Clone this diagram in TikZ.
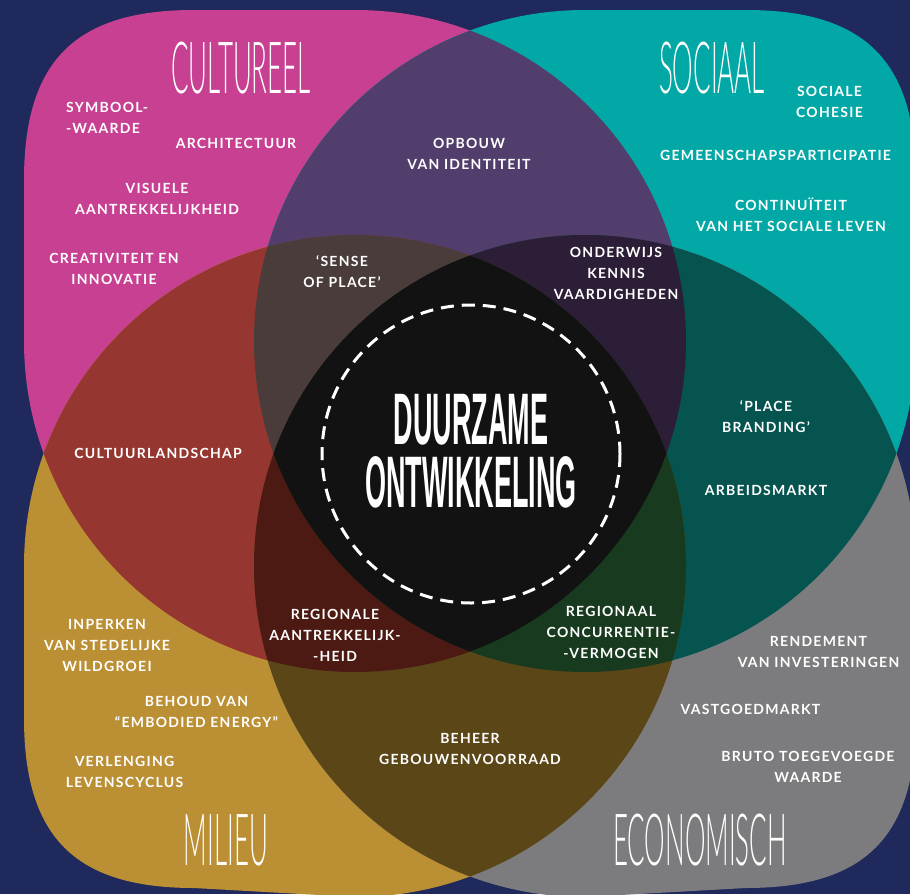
\documentclass[tikz,border=0pt]{standalone}
\usepackage{fontspec}
\setmainfont{Lato}
\newfontfamily\smallfont[LetterSpace=9]{Lato}
\newfontfamily\titlefont[FakeStretch=0.36]{Lato Light}
\newfontfamily\centerfont[FakeStretch=0.37]{Liberation Sans}
\definecolor{cNavy}{RGB}{31,41,91}
\definecolor{cMag}{RGB}{200,64,146}
\definecolor{cTeal}{RGB}{2,168,165}
\definecolor{cMus}{RGB}{187,143,52}
\definecolor{cGrey}{RGB}{124,123,125}
\definecolor{cMT}{RGB}{81,62,108}
\definecolor{cMU}{RGB}{150,54,49}
\definecolor{cTG}{RGB}{6,84,80}
\definecolor{cUG}{RGB}{91,70,24}
\definecolor{cMTU}{RGB}{74,60,58}
\definecolor{cMTG}{RGB}{44,30,54}
\definecolor{cMUG}{RGB}{76,26,18}
\definecolor{cTUG}{RGB}{24,58,30}
\definecolor{cAll}{RGB}{18,18,18}
\def\magpath{(355,10) arc[start angle=-90,end angle=180,radius=331] -- (24,180) .. controls (24,61) and (75,10) .. (194,10) -- cycle}
\def\tealpath{(916,341) arc[start angle=0,end angle=270,radius=331] -- (746,10) .. controls (865,10) and (916,61) .. (916,180) -- cycle}
\def\muspath{(24,566) arc[start angle=180,end angle=450,radius=331] -- (194,888) .. controls (75,888) and (24,837) .. (24,718) -- cycle}
\def\greypath{(585,897) arc[start angle=90,end angle=360,radius=331] -- (916,718) .. controls (916,837) and (865,888) .. (746,888) -- cycle}
\begin{document}
\begin{tikzpicture}[x=1pt,y=-1pt,
  lbl/.style={font=\smallfont\bfseries\fontsize{14}{21}\selectfont,text=white,align=center,inner sep=0pt},
  ttl/.style={font=\titlefont\fontsize{72}{72}\selectfont,text=white,inner sep=0pt,anchor=base},
  ctr/.style={font=\centerfont\bfseries\fontsize{73}{63}\selectfont,text=white,align=center,inner sep=0pt}]
\useasboundingbox (0,0) rectangle (910,894);
\clip (0,0) rectangle (910,894);
\fill[cNavy] (0,0) rectangle (910,894);
% base shapes
\fill[cMag] \magpath;
\fill[cTeal] \tealpath;
\fill[cMus] \muspath;
\fill[cGrey] \greypath;
% pairs
\begin{scope}\clip \magpath; \fill[cMT] \tealpath; \end{scope}
\begin{scope}\clip \magpath; \fill[cMU] \muspath; \end{scope}
\begin{scope}\clip \tealpath; \fill[cTG] \greypath; \end{scope}
\begin{scope}\clip \muspath; \fill[cUG] \greypath; \end{scope}
% triples
\begin{scope}\clip \magpath; \clip \tealpath; \fill[cMTU] \muspath; \end{scope}
\begin{scope}\clip \magpath; \clip \tealpath; \fill[cMTG] \greypath; \end{scope}
\begin{scope}\clip \magpath; \clip \muspath; \fill[cMUG] \greypath; \end{scope}
\begin{scope}\clip \tealpath; \clip \muspath; \fill[cTUG] \greypath; \end{scope}
% all four
\begin{scope}\clip \magpath; \clip \tealpath; \clip \muspath; \fill[cAll] \greypath; \end{scope}
% dashed ring
\draw[white,line width=3pt,dash pattern=on 13pt off 8pt] (471,454) circle[radius=149];
% titles
\node[ttl] (cult) at (241,93) {CULTUREEL};
\node[ttl] (soc) at (712,93) {SOCIAAL};
\node[ttl] (mil) at (226,865) {MILIEU};
\node[ttl] (eco) at (700,865) {ECONOMISCH};
\node[ctr] (dur) at (471,451.5) {DUURZAME\\ONTWIKKELING};
% labels
\node[lbl,align=left,anchor=west] (sym) at (66,118) {SYMBOOL-\\-WAARDE};
\node[lbl] (arch) at (236,143) {ARCHITECTUUR};
\node[lbl] (vis) at (157,198.5) {VISUELE\\AANTREKKELIJKHEID};
\node[lbl] (crea) at (114,269) {CREATIVITEIT EN\\INNOVATIE};
\node[lbl] (sense) at (342,271.5) {‘SENSE\\OF PLACE’};
\node[lbl] (opb) at (469,154) {OPBOUW\\VAN IDENTITEIT};
\node[lbl] (cohe) at (829.5,101.5) {SOCIALE\\COHESIE};
\node[lbl] (gem) at (775.5,155) {GEMEENSCHAPSPARTICIPATIE};
\node[lbl] (cont) at (791,214.5) {CONTINUÏTEIT\\VAN HET SOCIALE LEVEN};
\node[lbl] (ond) at (616,273) {ONDERWIJS\\KENNIS\\VAARDIGHEDEN};
\node[lbl] (clsc) at (158,453) {CULTUURLANDSCHAP};
\node[lbl] (plb) at (766,417) {‘PLACE\\BRANDING’};
\node[lbl] (arb) at (766,490) {ARBEIDSMARKT};
\node[lbl] (inp) at (107,645) {INPERKEN\\VAN STEDELIJKE\\WILDGROEI};
\node[lbl] (rega) at (335,635) {REGIONALE\\AANTREKKELIJK-\\-HEID};
\node[lbl] (beh) at (196.5,712) {BEHOUD VAN\\“EMBODIED ENERGY”};
\node[lbl] (verl) at (124.5,771.5) {VERLENGING\\LEVENSCYCLUS};
\node[lbl] (regc) at (611,632.5) {REGIONAAL\\CONCURRENTIE-\\-VERMOGEN};
\node[lbl] (rend) at (818.5,651.5) {RENDEMENT\\VAN INVESTERINGEN};
\node[lbl] (vast) at (750.5,709) {VASTGOEDMARKT};
\node[lbl] (bruto) at (808,767) {BRUTO TOEGEVOEGDE\\WAARDE};
\node[lbl] (gebv) at (470,748.5) {BEHEER\\GEBOUWENVOORRAAD};
\end{tikzpicture}
\end{document}
